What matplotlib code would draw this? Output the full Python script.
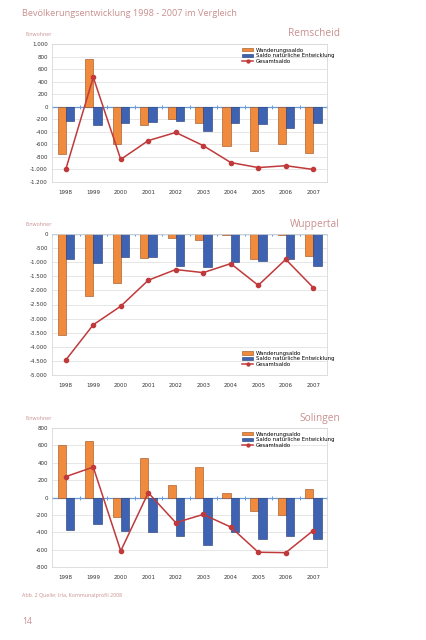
import numpy as np
import matplotlib.pyplot as plt
from matplotlib.ticker import FuncFormatter

years = ['1998', '1999', '2000', '2001', '2002', '2003', '2004', '2005', '2006', '2007']

# Remscheid
rs_wanderung = [-760, 760, -590, -290, -190, -260, -630, -700, -590, -730]
rs_natuerlich = [-230, -290, -260, -250, -230, -380, -260, -270, -340, -260]
rs_gesamt = [-1000, 470, -840, -540, -410, -620, -890, -970, -940, -1000]

# Wuppertal
wu_wanderung = [-3580, -2200, -1750, -840, -150, -200, -50, -880, -30, -790]
wu_natuerlich = [-880, -1020, -820, -810, -1120, -1170, -1000, -940, -870, -1120]
wu_gesamt = [-4470, -3220, -2560, -1640, -1260, -1370, -1050, -1820, -900, -1900]

# Solingen
so_wanderung = [605, 650, -230, 455, 145, 350, 55, -155, -205, 100]
so_natuerlich = [-370, -300, -385, -400, -440, -550, -395, -480, -440, -480]
so_gesamt = [240, 350, -615, 55, -290, -195, -340, -630, -635, -380]

ORANGE = '#f08a3c'
BLUE = '#3f63b3'
RED = '#c0393b'
PINK = '#c98f8f'
BAR_W = 0.3

fmt = FuncFormatter(lambda v, p: '{:,.0f}'.format(v).replace(',', '.'))

fig = plt.figure(figsize=(4.27, 6.4), dpi=100)
fig.text(22 / 427, 1 - 13 / 640, 'Bevölkerungsentwicklung 1998 - 2007 im Vergleich',
         color=PINK, fontsize=6.6, family='Open Sans', va='center')


def panel(rect, city, wand, nat, ges, ylim, step, wand_label, legend_loc):
    ax = fig.add_axes(rect)
    x = np.arange(len(years))
    b1 = ax.bar(x - BAR_W / 2, wand, BAR_W, color=ORANGE, edgecolor='#9a4a1c',
                linewidth=0.4, label=wand_label, zorder=2)
    b2 = ax.bar(x + BAR_W / 2, nat, BAR_W, color=BLUE, edgecolor='#22386e',
                linewidth=0.4, label='Saldo natürliche Entwicklung', zorder=2)
    ln, = ax.plot(x, ges, color=RED, lw=1.1, marker='o', ms=3, label='Gesamtsaldo', zorder=3)
    ax.axhline(0, color='#6a9ad6', lw=0.9, zorder=1)
    ax.plot(np.arange(len(years) + 1) - 0.5, np.zeros(len(years) + 1), ls='none',
            marker='|', ms=2.5, color='#6a9ad6', mew=0.7, zorder=1)
    ax.set_xlim(-0.5, len(years) - 0.5)
    ax.set_ylim(*ylim)
    ax.set_yticks(np.arange(ylim[0], ylim[1] + 1, step))
    ax.yaxis.set_major_formatter(fmt)
    ax.set_xticks(x)
    ax.set_xticklabels(years)
    ax.tick_params(axis='both', length=0, labelsize=4.0, colors='#333333', pad=6)
    ax.tick_params(axis='y', pad=3)
    ax.grid(axis='y', color='#e2e2e2', lw=0.6, zorder=0)
    ax.set_axisbelow(True)
    for s in ax.spines.values():
        s.set_color('#d8d8d8')
        s.set_linewidth(0.6)
    anchor = (1.04, 1) if legend_loc == 'upper right' else (1.04, 0.03)
    ax.legend([b1, b2, ln], [wand_label, 'Saldo natürliche Entwicklung', 'Gesamtsaldo'],
              loc=legend_loc, fontsize=3.9, frameon=False, handlelength=2.0,
              handleheight=0.5, labelspacing=0.1, borderaxespad=0.3, handletextpad=0.5,
              bbox_to_anchor=anchor, markerscale=0.7)
    l, b, w, h = rect
    fig.text(26 / 427, b + h + 10 / 640, 'Einwohner', color=PINK, fontsize=3.8,
             family='Open Sans', va='center')
    fig.text(l + w + 13 / 427, b + h + 10 / 640, city, color=PINK, fontsize=7.3,
             family='Open Sans', ha='right', va='center')
    return ax


panel([52 / 427, 1 - 182 / 640, 275 / 427, 138 / 640], 'Remscheid',
      rs_wanderung, rs_natuerlich, rs_gesamt, (-1200, 1000), 200,
      'Wanderungssaldo', 'upper right')
panel([52 / 427, 1 - 375 / 640, 275 / 427, 141 / 640], 'Wuppertal',
      wu_wanderung, wu_natuerlich, wu_gesamt, (-5000, 0), 500,
      'Wanderungsaldo', 'lower right')
panel([52 / 427, 1 - 567 / 640, 275 / 427, 139 / 640], 'Solingen',
      so_wanderung, so_natuerlich, so_gesamt, (-800, 800), 200,
      'Wanderungsaldo', 'upper right')

fig.text(22 / 427, 1 - 595 / 640, 'Abb. 2 Quelle: Irla, Kommunalprofil 2008',
         color=PINK, fontsize=3.8, family='Open Sans', va='center')
fig.text(22 / 427, 1 - 622 / 640, '14', color=PINK, fontsize=6.2,
         family='Open Sans', va='center')

fig.savefig('out.png', dpi=100)
